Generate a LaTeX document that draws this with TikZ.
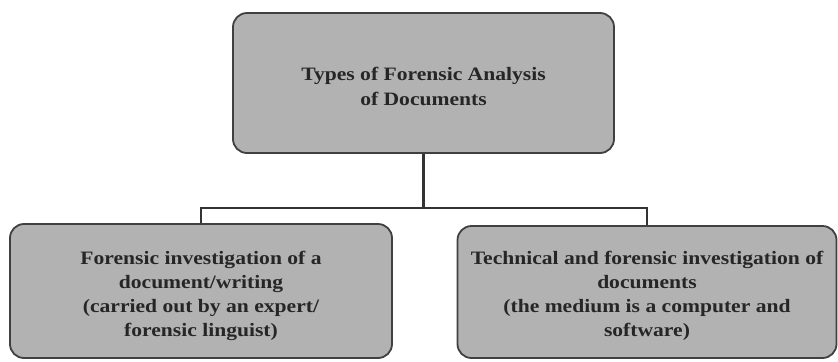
\documentclass[tikz,border=0pt]{standalone}
\usepackage{fontspec}
\setmainfont{Liberation Serif}[FakeStretch=1.14]
\begin{document}
\begin{tikzpicture}[x=1bp,y=-1bp,
  box/.style={draw=black!75, line width=1.8bp, fill=black!30, rounded corners=14bp,
    inner sep=0pt},
  caption/.style={align=center, font=\fontsize{19}{24}\selectfont\bfseries,
    text=black!85, inner sep=0pt},
  link/.style={draw=black!80, line width=2.2bp}]
\useasboundingbox (0,0) rectangle (838,361);
% boxes
\node[box, minimum width=381bp, minimum height=140bp] (top) at (423.5,83) {};
\node[box, minimum width=382bp, minimum height=134bp] (left) at (201,291) {};
\node[box, minimum width=379bp, minimum height=132bp] (right) at (647,292) {};
% box texts (yshift is in canvas units: negative moves down)
\node[caption] (top text) at ([yshift=-3bp]top.center)
  {Types of Forensic Analysis\\[1pt]of Documents};
\node[caption] (left text) at ([yshift=-5bp]left.center)
  {Forensic investigation of a\\document/writing\\(carried out by an expert/\\forensic linguist)};
\node[caption] (right text) at ([yshift=-4bp]right.center)
  {Technical and forensic investigation of\\documents\\(the medium is a computer and\\software)};
% connectors
\coordinate (split) at (top.south |- 0,208);
\draw[link] (top.south) -- (split) -| (left.north);
\draw[link] (split) -| (right.north);
\end{tikzpicture}
\end{document}
